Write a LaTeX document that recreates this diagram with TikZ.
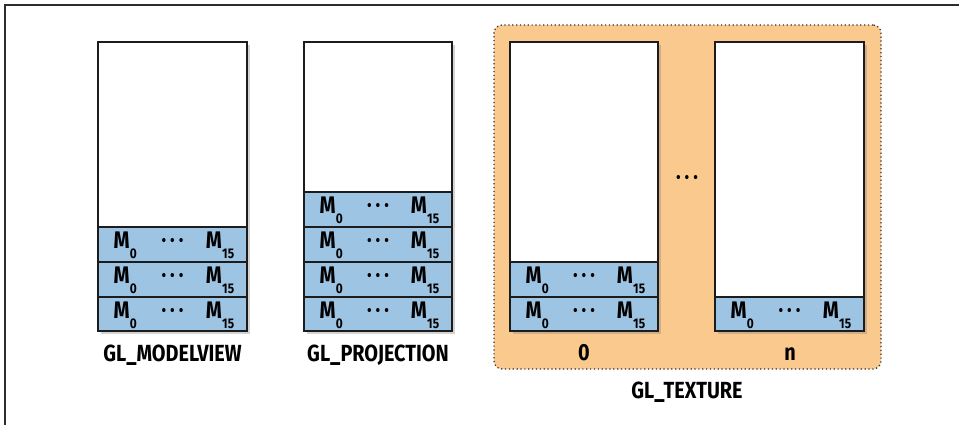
\documentclass[tikz,border=0pt]{standalone}
\usepackage{fontspec}
\setmainfont{Fira Sans}[FakeStretch=0.85]
\usetikzlibrary{shadows,fit}
\definecolor{rowblue}{RGB}{158,196,228}
\definecolor{texorange}{RGB}{249,201,142}
\definecolor{edgecol}{RGB}{28,28,28}
\definecolor{framecol}{RGB}{45,45,45}
\newcommand\msub[1]{M\kern0.2pt\raisebox{-7.6pt}{\fontsize{10.5}{10.5}\selectfont #1}}
\begin{document}
\begin{tikzpicture}[x=0.75pt,y=-0.75pt,
  stackbox/.style={draw=edgecol,line width=1.5pt,fill=white,inner sep=0pt,
    drop shadow={shadow xshift=2.4pt,shadow yshift=-2.4pt,opacity=0.35}},
  stackedge/.style={draw=edgecol,line width=1.5pt,inner sep=0pt},
  rowbox/.style={draw=edgecol,line width=1.1pt,fill=rowblue,inner sep=0pt},
  mtext/.style={font=\fontsize{18}{18}\selectfont\bfseries,inner sep=0pt},
  dots/.style={font=\fontsize{17}{17}\selectfont\bfseries,inner sep=0pt},
  lab/.style={font=\fontsize{17.5}{17.5}\selectfont\bfseries,inner sep=0pt,anchor=base},
  texgroup/.style={draw=framecol,line width=0.9pt,dotted,fill=texorange,rounded corners=6pt,inner sep=0pt}
]
\newcommand\mrow[5]{%
  \node[rowbox,fit={(#2,#3) (#4,#5)}] (#1) {};
  \node[mtext,anchor=base west] (#1a) at ([xshift=12pt,yshift=-3pt]#1.west) {\msub{0}};
  \node[dots,anchor=base] (#1b) at ([yshift=-2.6pt]#1.center) {·\hspace{3pt}·\hspace{3pt}·};
  \node[mtext,anchor=base east] (#1c) at ([xshift=-10pt,yshift=-3pt]#1.east) {\msub{15}};
}
\useasboundingbox (0,0) rectangle (959,425);
% frame
\coordinate (fA) at (5,425);
\coordinate (fB) at (5,5);
\coordinate (fC) at (959,5);
\draw[framecol,line width=1.5pt] (fA) -- (fB) -- (fC);
% texture group background
\node[texgroup,fit={(494,25) (881,369)}] (tex) {};
% stacks
\node[stackbox,fit={(98,42) (247,331)}] (s1) {};
\node[stackbox,fit={(304,42) (452,331)}] (s2) {};
\node[stackbox,fit={(510,42) (658,331)}] (s3) {};
\node[stackbox,fit={(715,42) (864,331)}] (s4) {};
% rows
\mrow{ra1}{98}{227}{247}{262}
\mrow{ra2}{98}{262}{247}{297}
\mrow{ra3}{98}{297}{247}{331}
\mrow{rb1}{304}{192}{452}{227}
\mrow{rb2}{304}{227}{452}{262}
\mrow{rb3}{304}{262}{452}{297}
\mrow{rb4}{304}{297}{452}{331}
\mrow{rc1}{510}{262}{658}{297}
\mrow{rc2}{510}{297}{658}{331}
\mrow{rd1}{715}{297}{864}{331}
% outlines again
\node[stackedge,fit={(98,42) (247,331)}] (e1) {};
\node[stackedge,fit={(304,42) (452,331)}] (e2) {};
\node[stackedge,fit={(510,42) (658,331)}] (e3) {};
\node[stackedge,fit={(715,42) (864,331)}] (e4) {};
% middle dots
\node[dots,anchor=base] (mid) at (687,184) {·\hspace{3pt}·\hspace{3pt}·};
% labels
\node[lab] (l1) at (172.5,361) {GL\_MODELVIEW};
\node[lab] (l2) at (378,361) {GL\_PROJECTION};
\node[lab] (l3) at (584,360) {0};
\node[lab] (l4) at (790,360) {n};
\node[lab] (l5) at (687,398) {GL\_TEXTURE};
\end{tikzpicture}
\end{document}
